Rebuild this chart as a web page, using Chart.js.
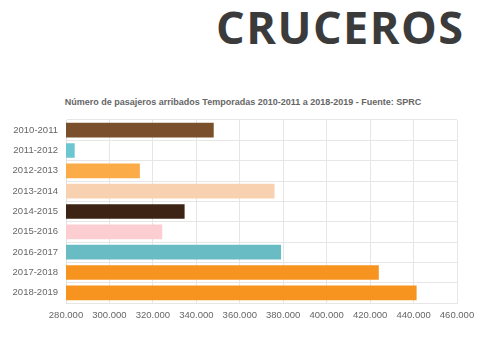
<!DOCTYPE html>
<html>
<head>
<meta charset="utf-8">
<script src="https://cdn.jsdelivr.net/npm/chart.js@4"></script>
<style>
  html, body { margin: 0; padding: 0; background: #fff; }
  #wrap { position: relative; width: 500px; height: 337px; overflow: hidden; }
  #head {
    position: absolute; left: 216px; top: 4px;
    font-family: "Open Sans", sans-serif; font-weight: 700;
    font-size: 45px; line-height: 45px; color: #3b3b3b;
    letter-spacing: 1.5px; white-space: nowrap;
  }
  #titulo {
    position: absolute; left: 0; width: 486px; top: 97px;
    text-align: center; white-space: nowrap;
    font-family: "Liberation Sans", Arial, sans-serif; font-weight: bold;
    font-size: 9px; line-height: 11px; color: #666;
  }
  #box { position: absolute; left: 0; top: 0; width: 500px; height: 337px; }
</style>
</head>
<body>
<div id="wrap">
  <div id="head">CRUCEROS</div>
  <div id="titulo">Número de pasajeros arribados Temporadas 2010-2011 a 2018-2019 - Fuente: SPRC</div>
  <div id="box"><canvas id="barChart"></canvas></div>
</div>
<script>
var temporadas = ['2010-2011', '2011-2012', '2012-2013', '2013-2014', '2014-2015',
                  '2015-2016', '2016-2017', '2017-2018', '2018-2019'];
var pasajeros = [348000, 284000, 314000, 376000, 334600, 324300, 379000, 424000, 441400];
var colores = ['#7a4f2b', '#6cc6d1', '#fbac48', '#f7d1b0', '#3d2313',
               '#fccdd1', '#6abcc4', '#f7941f', '#f7941f'];
var ejeMin = 280000;
var ejeMax = 460000;
var ejePaso = 20000;

function miles(v) {
    return String(v).replace(/\B(?=(\d{3})+(?!\d))/g, '.');
}

document.addEventListener('DOMContentLoaded', function() {
    Chart.defaults.font.family = '"Liberation Sans", Arial, sans-serif';
    Chart.defaults.color = '#666';

    var ctx = document.getElementById('barChart').getContext('2d');
    var barChart = new Chart(ctx, {
        type: 'bar',
        data: {
            labels: temporadas,
            datasets: [{
                label: 'Pasajeros',
                data: pasajeros,
                backgroundColor: colores,
                borderWidth: 0
            }]
        },
        options: {
            indexAxis: 'y',
            responsive: true,
            maintainAspectRatio: false,
            animation: false,
            layout: {
                padding: { left: 0, right: 43, top: 120, bottom: 14 }
            },
            scales: {
                x: {
                    min: ejeMin,
                    max: ejeMax,
                    ticks: {
                        stepSize: ejePaso,
                        padding: 7,
                        maxRotation: 0,
                        minRotation: 0,
                        autoSkip: false,
                        font: { size: 9.5 },
                        callback: function(v) { return miles(v); }
                    },
                    grid: { color: '#e6e6e6', drawTicks: false },
                    border: { color: '#e6e6e6' },
                    afterFit: function(scale) { scale.height = 20; }
                },
                y: {
                    ticks: { padding: 8, font: { size: 9.5 } },
                    grid: { color: '#e6e6e6', drawTicks: false },
                    border: { color: '#e0e0e0' },
                    afterFit: function(scale) { scale.width = 66; }
                }
            },
            plugins: {
                legend: { display: false },
                tooltip: { enabled: false }
            }
        }
    });
});
</script>
</body>
</html>
